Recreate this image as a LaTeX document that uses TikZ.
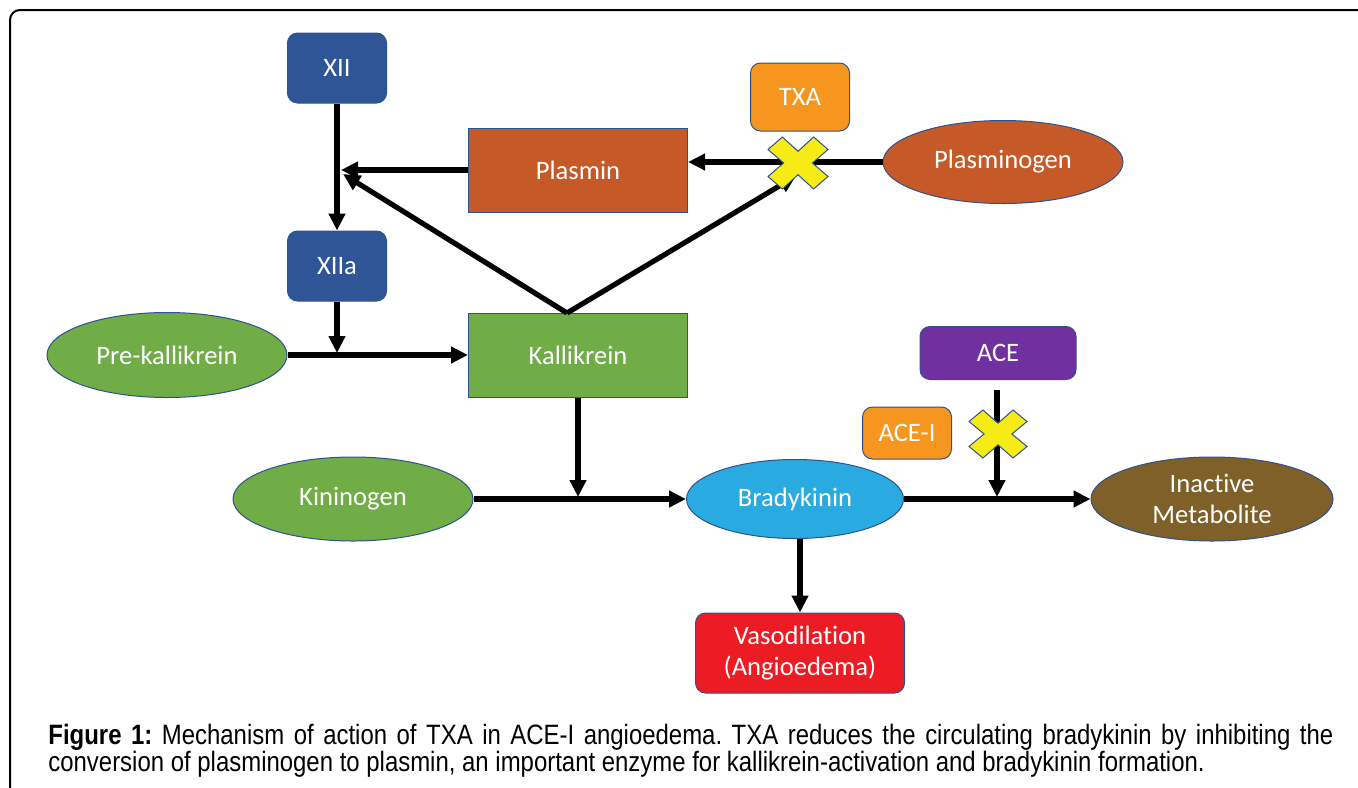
\documentclass[tikz,border=0pt]{standalone}
\usepackage{fontspec}
\setmainfont{Carlito}[Ligatures=NoCommon]
\newfontfamily\capfont{Liberation Sans}[FakeStretch=0.855]
\usetikzlibrary{arrows.meta,shapes.geometric}
\definecolor{cdblue}{HTML}{2F5597}
\definecolor{cplasmin}{HTML}{C55A28}
\definecolor{corange}{HTML}{F7961E}
\definecolor{cgreen}{HTML}{70AD47}
\definecolor{cpurple}{HTML}{7030A0}
\definecolor{clblue}{HTML}{29ABE2}
\definecolor{cbrown}{HTML}{7F6029}
\definecolor{cred}{HTML}{ED1C24}
\definecolor{cyellow}{HTML}{F6EB14}
\definecolor{cedge}{HTML}{2F528F}
\tikzset{
  base/.style={draw=cedge, line width=0.5pt, text=white, inner sep=0pt, align=center,
    font=\fontsize{13.3}{15.8}\selectfont},
  rbox/.style={base, rectangle, rounded corners=5pt},
  sbox/.style={base, rectangle},
  ell/.style={base, ellipse},
  arr/.style={line width=2.6pt, -{Triangle[length=8.5pt,width=8pt]}},
  xmark/.style={fill=cyellow, draw=cedge, line width=0.5pt},
}
\begin{document}
\frenchspacing
\begin{tikzpicture}[x=0.5pt,y=-0.5pt]
\useasboundingbox (0,0) rectangle (1358,787);
\begin{scope}
\clip (0,0) rectangle (1358,787);
\draw[line width=1pt, rounded corners=5pt] (10,10) rectangle (1400,830);
\end{scope}

% nodes
\node[rbox, fill=cdblue, minimum width=49.5pt, minimum height=35pt] (XII) at (337,68) {XII};
\node[rbox, fill=cdblue, minimum width=49.5pt, minimum height=35pt] (XIIa) at (337,266) {XIIa};
\node[sbox, fill=cplasmin, minimum width=109.5pt, minimum height=42pt] (Plasmin) at (578,170) {Plasmin};
\node[rbox, fill=corange, minimum width=49.5pt, minimum height=34pt] (TXA) at (800,97) {TXA};
\node[ell, fill=cplasmin, minimum width=120pt, minimum height=41.5pt] (Plasminogen) at (1003,162) {Plasminogen};
\node[ell, fill=cgreen, minimum width=120pt, minimum height=42.5pt] (Pre) at (167,355) {Pre-kallikrein};
\node[sbox, fill=cgreen, minimum width=109.5pt, minimum height=42pt] (Kallikrein) at (578,355) {Kallikrein};
\node[rbox, fill=cpurple, minimum width=78pt, minimum height=26.5pt] (ACE) at (998,353) {ACE};
\node[rbox, fill=corange, minimum width=44.5pt, minimum height=26pt] (ACEI) at (907,433) {ACE-I};
\node[ell, fill=cgreen, minimum width=120pt, minimum height=42pt] (Kininogen) at (353,499) {Kininogen};
\node[ell, fill=clblue, minimum width=108.5pt, minimum height=39.5pt] (Bradykinin) at (795,499) {Bradykinin};
\node[ell, fill=cbrown, minimum width=121pt, minimum height=42pt] (Inactive) at (1212,499) {Inactive\\Metabolite};
\node[rbox, fill=cred, minimum width=104.5pt, minimum height=40pt] (Vaso) at (800,653) {Vasodilation\\(Angioedema)};

% junctions
\coordinate (j1) at (341,170);
\coordinate (j1b) at (343,174);
\coordinate (k1) at (567,313);
\coordinate (x1) at (796,176);
\coordinate (j2) at (337,353);
\coordinate (j3) at (578,497);
\coordinate (j4) at (997,497);

% connectors
\draw[arr] (XII.south) -- (XIIa.north);
\draw[arr] (Plasmin.west) -- (j1);
\draw[arr] (k1) -- (j1b);
\draw[arr] (k1) -- (x1);
\draw[arr] (Plasminogen.west) -- (Plasmin.east |- Plasminogen.west);
\draw[arr] (XIIa.south) -- (j2);
\draw[arr] (Pre.east) -- (Kallikrein.west);
\draw[arr] (Kallikrein.south) -- (j3);
\draw[arr] (Kininogen.east) -- (Bradykinin.west);
\draw[arr] (Bradykinin.east) -- (Inactive.west);
\draw[arr, shorten <=5pt] (ACE.south -| j4) -- (j4);
\draw[arr] (Bradykinin.south -| Vaso.north) -- (Vaso.north);

% inhibition crosses
\foreach \cx/\cy/\sx/\sy in {798/163/30/26, 998/434/29/24}{
  \draw[xmark, shift={(\cx,\cy)}, xscale=\sx, yscale=\sy]
    (0,0.45) -- (0.52,1) -- (1,0.52) -- (0.48,0) -- (1,-0.52) -- (0.52,-1)
    -- (0,-0.45) -- (-0.52,-1) -- (-1,-0.52) -- (-0.48,0) -- (-1,0.52) -- (-0.52,1) -- cycle;
}

% caption
\node[anchor=north west, inner sep=0pt, text width=642.5pt, align=justify,
  font=\capfont\fontsize{14}{13.2}\selectfont] (cap) at (48,724)
  {\textbf{Figure 1:} Mechanism of action of TXA in ACE-I angioedema. TXA reduces the circulating bradykinin by inhibiting the\linebreak conversion of plasminogen to plasmin, an important enzyme for kallikrein-activation and bradykinin formation.};
\end{tikzpicture}
\end{document}
